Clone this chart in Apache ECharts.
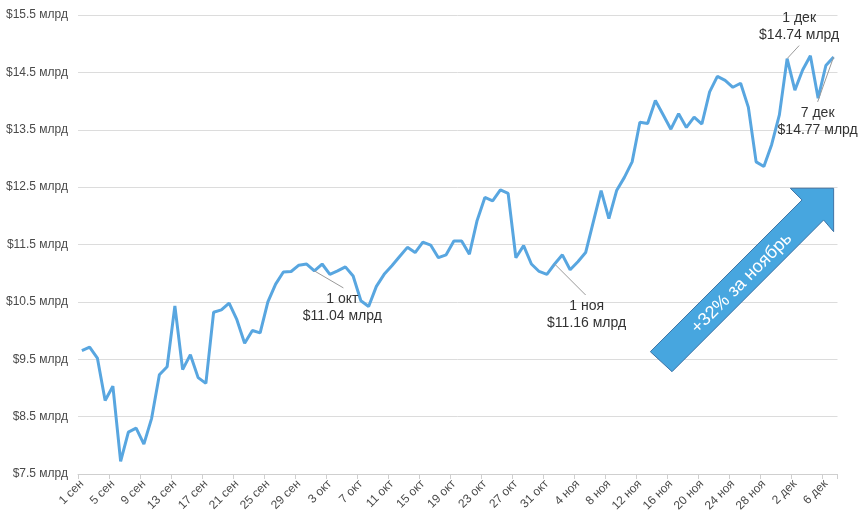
<!DOCTYPE html>
<html>
<head>
<meta charset="utf-8">
<script src="https://cdn.jsdelivr.net/npm/echarts@6/dist/echarts.min.js"></script>
<style>
html,body{margin:0;padding:0;background:#fff;}
#chart{width:860px;height:522px;}
</style>
</head>
<body>
<div id="chart"></div>
<script>
const dates = [
  '1 сен','2 сен','3 сен','4 сен','5 сен','6 сен','7 сен','8 сен','9 сен','10 сен',
  '11 сен','12 сен','13 сен','14 сен','15 сен','16 сен','17 сен','18 сен','19 сен','20 сен',
  '21 сен','22 сен','23 сен','24 сен','25 сен','26 сен','27 сен','28 сен','29 сен','30 сен',
  '1 окт','2 окт','3 окт','4 окт','5 окт','6 окт','7 окт','8 окт','9 окт','10 окт',
  '11 окт','12 окт','13 окт','14 окт','15 окт','16 окт','17 окт','18 окт','19 окт','20 окт',
  '21 окт','22 окт','23 окт','24 окт','25 окт','26 окт','27 окт','28 окт','29 окт','30 окт','31 окт',
  '1 ноя','2 ноя','3 ноя','4 ноя','5 ноя','6 ноя','7 ноя','8 ноя','9 ноя','10 ноя',
  '11 ноя','12 ноя','13 ноя','14 ноя','15 ноя','16 ноя','17 ноя','18 ноя','19 ноя','20 ноя',
  '21 ноя','22 ноя','23 ноя','24 ноя','25 ноя','26 ноя','27 ноя','28 ноя','29 ноя','30 ноя',
  '1 дек','2 дек','3 дек','4 дек','5 дек','6 дек','7 дек'
];
const values = [
  9.65, 9.71, 9.52, 8.78, 9.03, 7.72, 8.23, 8.30, 8.02, 8.47,
  9.23, 9.37, 10.43, 9.32, 9.58, 9.18, 9.08, 10.32, 10.36, 10.48,
  10.19, 9.78, 10.00, 9.96, 10.50, 10.81, 11.02, 11.03, 11.14, 11.16,
  11.04, 11.16, 10.98, 11.04, 11.11, 10.95, 10.52, 10.42, 10.77, 10.98,
  11.13, 11.29, 11.45, 11.36, 11.54, 11.49, 11.27, 11.32, 11.56, 11.56,
  11.33, 11.92, 12.32, 12.26, 12.45, 12.39, 11.27, 11.48, 11.16, 11.03, 10.98,
  11.16, 11.32, 11.06, 11.20, 11.36, 11.90, 12.44, 11.95, 12.44, 12.67,
  12.94, 13.63, 13.61, 14.01, 13.76, 13.51, 13.78, 13.54, 13.72, 13.60,
  14.16, 14.43, 14.36, 14.24, 14.31, 13.89, 12.94, 12.86, 13.24, 13.76,
  14.74, 14.19, 14.54, 14.79, 14.05, 14.62, 14.77
];
const yMin = 7.5, yMax = 15.5, yStep = 1;
const annotationDates = ['1 окт', '1 ноя', '1 дек', '7 дек'];
const annotationTexts = ['1 окт\n$11.04 млрд', '1 ноя\n$11.16 млрд', '1 дек\n$14.74 млрд', '7 дек\n$14.77 млрд'];
const arrowText = '+32% за ноябрь';
const arrowTipDate = '6 дек';
const arrowTipValue = 12.48;

const FONT = '"Liberation Sans", Arial, Helvetica, sans-serif';
// leader line end and text centre offsets (pixels) relative to the annotated point
const annLayout = [
  {lx: 29, ly: 17, tx: 28, ty: 37},
  {lx: 31, ly: 31, tx: 32, ty: 51},
  {lx: 12, ly: -13, tx: 12, ty: -32},
  {lx: -16, ly: 45, tx: -16, ty: 65}
];

const chart = echarts.init(document.getElementById('chart'), null, {renderer: 'canvas'});
chart.setOption({
  animation: false,
  backgroundColor: '#fff',
  grid: {left: 78, right: 22.5, top: 15, bottom: 48, containLabel: false},
  xAxis: {
    type: 'category',
    data: dates,
    boundaryGap: true,
    axisLine: {lineStyle: {color: '#cfcfcf', width: 1}},
    axisTick: {show: true, interval: 3, length: 5, lineStyle: {color: '#cfcfcf'}},
    axisLabel: {interval: 3, rotate: 45, margin: 8, color: '#4a4a4a', fontSize: 12, fontFamily: FONT},
    splitLine: {show: false}
  },
  yAxis: {
    type: 'value',
    min: yMin, max: yMax, interval: yStep,
    axisLine: {show: false},
    axisTick: {show: false},
    axisLabel: {margin: 10, color: '#4a4a4a', fontSize: 12, fontFamily: FONT,
      formatter: v => '$' + v.toFixed(1) + ' млрд'},
    splitLine: {lineStyle: {color: '#dcdcdc', width: 1}}
  },
  series: [{
    type: 'line',
    data: values,
    showSymbol: false,
    symbol: 'none',
    lineStyle: {color: '#58a6e0', width: 3},
    z: 3
  }]
});

const graphics = [];
annotationDates.forEach((d, i) => {
  const idx = dates.indexOf(d);
  const p = chart.convertToPixel({seriesIndex: 0}, [idx, values[idx]]);
  const L = annLayout[i];
  graphics.push({
    type: 'line', z: 10,
    shape: {x1: p[0], y1: p[1], x2: p[0] + L.lx, y2: p[1] + L.ly},
    style: {stroke: '#9a9a9a', lineWidth: 1}
  });
  graphics.push({
    type: 'text', z: 11,
    x: p[0] + L.tx, y: p[1] + L.ty,
    style: {text: annotationTexts[i], fill: '#333', font: '14px ' + FONT,
      align: 'center', verticalAlign: 'middle', lineHeight: 17}
  });
});

// arrow annotation anchored at its tip
const tip = chart.convertToPixel({xAxisIndex: 0, yAxisIndex: 0}, [dates.indexOf(arrowTipDate) + 0.95, arrowTipValue]);
const rel = [[0,0],[0,43.4],[-10,31.7],[-161.6,183.4],[-183.3,163.4],[-31.6,11.7],[-43.3,0]];
graphics.push({
  type: 'polygon', z: 20,
  shape: {points: rel.map(r => [tip[0] + r[0], tip[1] + r[1]])},
  style: {fill: '#47a6df', stroke: '#3f74a6', lineWidth: 1}
});
graphics.push({
  type: 'text', z: 21,
  x: tip[0] - 92, y: tip[1] + 95,
  rotation: Math.PI / 4,
  style: {text: arrowText, fill: '#fff', font: '18px ' + FONT, align: 'center', verticalAlign: 'middle'}
});
chart.setOption({graphic: graphics});
</script>
</body>
</html>
